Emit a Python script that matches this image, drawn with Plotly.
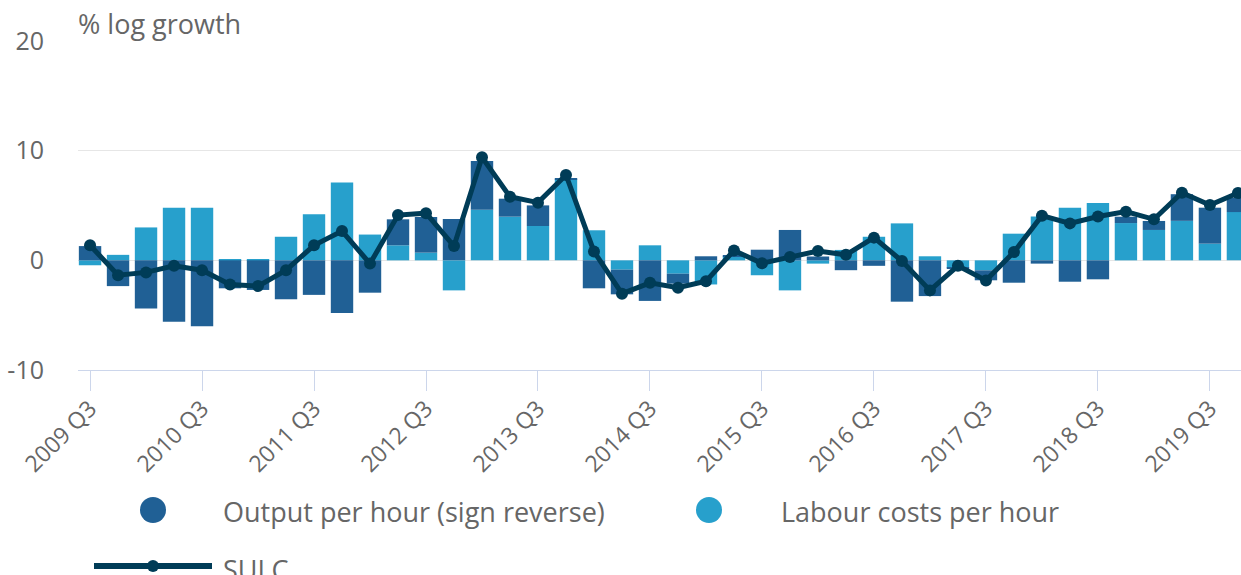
import plotly.graph_objects as go

quarters = [f"{y} Q{q}" for y in range(2009, 2020) for q in (1, 2, 3, 4)][2:]  # 2009 Q3 .. 2019 Q4

output_rev = [1.3, -2.35, -4.4, -5.6, -6.0, -2.55, -2.7, -3.55, -3.15, -4.8,
              -2.95, 2.37, 3.25, 3.77, 4.44, 1.64, 1.88, 0.1, -2.55, -2.25,
              -3.7, -0.91, 0.37, 0.1, 0.97, 2.77, 0.35, -0.9, -0.5, -3.77,
              -3.26, -0.05, -0.91, -2.04, -0.3, -1.95, -1.73, 0.58, 0.82, 2.43,
              3.28, 1.3]
labour = [-0.45, 0.5, 3.0, 4.8, 4.8, 0.1, 0.1, 2.15, 4.2, 7.1,
          2.35, 1.37, 0.7, -2.74, 4.62, 3.98, 3.13, 7.4, 2.74, -0.85,
          1.37, -1.22, -2.2, 0.35, -1.36, -2.74, -0.3, 0.95, 2.15, 3.37,
          0.37, -0.67, -0.91, 2.43, 4.0, 4.8, 5.23, 3.4, 2.77, 3.6,
          1.52, 4.4]
sulc = [1.37, -1.35, -1.1, -0.5, -0.9, -2.2, -2.35, -0.9, 1.37, 2.67,
        -0.3, 4.13, 4.3, 1.3, 9.4, 5.8, 5.26, 7.78, 0.8, -3.04,
        -2.05, -2.5, -1.9, 0.9, -0.27, 0.3, 0.85, 0.5, 2.07, -0.06,
        -2.74, -0.5, -1.83, 0.76, 4.07, 3.37, 4.0, 4.44, 3.74, 6.17,
        5.05, 6.14]
tick_labels = [q for q in quarters if q.endswith("Q3")]
y_ticks = [-10, 0, 10, 20]
y_tick_text = ["-10", "0", "10", "20"]

DARK = "#206095"
LIGHT = "#27a0cc"
LINE = "#003c57"
TXT = "#666666"
FONT = "Open Sans"

W, H = 1241, 575
ML, MR, MT, MB = 78, 0, 41, 205
PW = W - ML - MR
PH = H - MT - MB

def px(x):
    return (x - ML) / PW

def py(y):
    return (H - MB - y) / PH

fig = go.Figure()
fig.add_trace(go.Bar(x=quarters, y=labour, name="Labour costs per hour",
                     marker=dict(color=LIGHT, line=dict(width=0)), showlegend=False))
fig.add_trace(go.Bar(x=quarters, y=output_rev, name="Output per hour (sign reverse)",
                     marker=dict(color=DARK, line=dict(width=0)), showlegend=False))
fig.add_trace(go.Scatter(x=quarters, y=sulc, name="SULC", mode="lines+markers",
                         line=dict(color=LINE, width=5),
                         marker=dict(color=LINE, size=12), showlegend=False))

shapes = []
annotations = []

def circle(cx, cy, d, color):
    shapes.append(dict(type="circle", xref="paper", yref="paper",
                       xsizemode="pixel", ysizemode="pixel",
                       xanchor=px(cx), yanchor=py(cy),
                       x0=-d / 2, x1=d / 2, y0=-d / 2, y1=d / 2,
                       fillcolor=color, line=dict(width=0)))

def label(x, y, text, size=27):
    annotations.append(dict(xref="paper", yref="paper", x=px(x), y=py(y),
                            xanchor="left", yanchor="middle", showarrow=False,
                            text=text, font=dict(family=FONT, size=size, color=TXT)))

circle(153, 510, 26, DARK)
label(221, 512, "Output per hour (sign reverse)")
circle(709, 510, 26, LIGHT)
label(779, 512, "Labour costs per hour")
shapes.append(dict(type="line", xref="paper", yref="paper",
                   x0=px(94), x1=px(212), y0=py(566), y1=py(566),
                   line=dict(color=LINE, width=6)))
circle(153, 566, 12, LINE)
label(221, 569, "SULC")
label(76, 23, "% log growth", size=27)

fig.update_layout(
    width=W, height=H,
    margin=dict(l=ML, r=MR, t=MT, b=MB),
    barmode="relative", bargap=0.2,
    plot_bgcolor="white", paper_bgcolor="white",
    font=dict(family=FONT, color=TXT),
    shapes=shapes, annotations=annotations,
    xaxis=dict(type="category", categoryorder="array", categoryarray=quarters,
               range=[-0.43, 41.11], tickmode="array", tickvals=tick_labels,
               ticktext=tick_labels, tickangle=-45,
               tickfont=dict(family=FONT, size=23, color=TXT),
               showgrid=False, showline=True, linecolor="#ccd6eb", linewidth=1,
               ticks="outside", ticklen=20, tickcolor="#ccd6eb", tickwidth=1,
               zeroline=False, ticklabelstandoff=-5),
    yaxis=dict(range=[-10, 20], tickmode="array", tickvals=y_ticks, ticktext=y_tick_text,
               tickfont=dict(family=FONT, size=25, color=TXT),
               showgrid=True, gridcolor="#e6e6e6", gridwidth=1,
               zeroline=True, zerolinecolor="#e6e6e6", zerolinewidth=1,
               showline=False, ticks="", ticklabelstandoff=33),
)

fig.write_html("out.html", config={"displayModeBar": False},
               post_script="document.body.style.margin='0';document.body.style.overflow='hidden';")
